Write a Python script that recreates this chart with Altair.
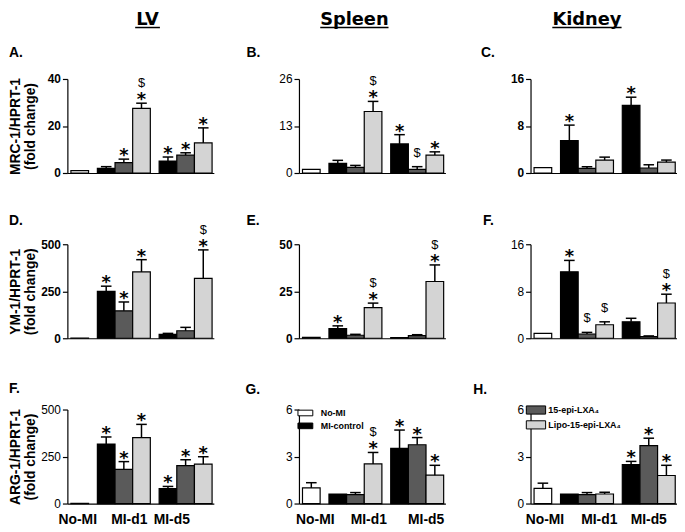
import altair as alt
import pandas as pd

# ---------------- data ----------------
tissues = ["LV", "Spleen", "Kidney"]
panel_letters = ["A.", "B.", "C.", "D.", "E.", "F.", "F.", "G.", "H."]
y_titles = [["MRC-1/HPRT-1", "(fold change)"],
            ["YM-1/HPRT-1", "(fold change)"],
            ["ARG-1/HPRT-1", "(fold change)"]]
series_names = ["No-MI", "MI-control", "15-epi-LXA₄", "Lipo-15-epi-LXA₄"]
time_labels = ["No-MI", "MI-d1", "MI-d5"]
bar_time = [0, 1, 1, 1, 2, 2, 2]
bar_series = [0, 1, 2, 3, 1, 2, 3]

y_ticks = [[0, 20, 40], [0, 13, 26], [0, 8, 16],
           [0, 250, 500], [0, 25, 50], [0, 8, 16],
           [0, 250, 500], [0, 3, 6], [0, 3, 6]]

# A. LV MRC-1
mean_A = [1.0, 2.0, 4.4, 27.5, 5.1, 7.6, 12.8]
sem_A = [0, 0.7, 1.5, 2.2, 1.7, 1.0, 6.4]
sig_A = ["", "", "*", "$*", "*", "*", "*"]
# B. Spleen MRC-1
mean_B = [1.0, 2.65, 1.55, 17.0, 8.05, 1.0, 4.95]
sem_B = [0, 0.85, 0.55, 2.8, 2.55, 0.75, 0.9]
sig_B = ["", "", "", "$*", "*", "$", "*"]
# C. Kidney MRC-1
mean_C = [0.9, 5.5, 0.8, 2.2, 11.5, 0.85, 1.85]
sem_C = [0, 2.65, 0.27, 0.5, 1.4, 0.55, 0.35]
sig_C = ["", "*", "", "", "*", "", ""]
# D. LV YM-1
mean_D = [1, 249, 146, 353, 21, 40, 319]
sem_D = [0, 28, 47, 65, 5, 18, 151]
sig_D = ["", "*", "*", "*", "", "", "$*"]
# E. Spleen YM-1
mean_E = [0.5, 5.2, 1.6, 16.3, 0.3, 1.4, 30.2]
sem_E = [0, 1.4, 0.5, 2.4, 0, 0.5, 8.8]
sig_E = ["", "*", "", "$*", "", "", "$*"]
# F. Kidney YM-1
mean_F = [0.84, 11.3, 0.73, 2.3, 2.8, 0.28, 6.0]
sem_F = [0, 1.95, 0.27, 0.5, 0.6, 0.12, 1.5]
sig_F = ["", "*", "$", "$", "", "", "$*"]
# F. LV ARG-1
mean_F2 = [1, 316, 182, 351, 79, 202, 210]
sem_F2 = [0, 38, 41, 70, 12, 31, 39]
sig_F2 = ["", "*", "*", "*", "*", "*", "*"]
# G. Spleen ARG-1
mean_G = [1.0, 0.61, 0.57, 2.53, 3.52, 3.75, 1.81]
sem_G = [0.33, 0, 0.13, 0.73, 1.17, 0.46, 0.63]
sig_G = ["", "", "", "$*", "*", "*", "*"]
# H. Kidney ARG-1
mean_H = [0.97, 0.61, 0.57, 0.61, 2.48, 3.7, 1.79]
sem_H = [0.33, 0, 0.13, 0.11, 0.21, 0.47, 0.65]
sig_H = ["", "", "", "", "*", "*", "*"]

means = [mean_A, mean_B, mean_C, mean_D, mean_E, mean_F, mean_F2, mean_G, mean_H]
sems = [sem_A, sem_B, sem_C, sem_D, sem_E, sem_F, sem_F2, sem_G, sem_H]
sigs = [sig_A, sig_B, sig_C, sig_D, sig_E, sig_F, sig_F2, sig_G, sig_H]

# ---------------- style ----------------
series_colors = ["#ffffff", "#000000", "#5a5a5a", "#d4d4d4"]
FONT = "Liberation Sans"
W, H = 148, 95
group_start = [0.7, 2.2, 5.7]
x_max = 8.3
bold_labels = [True, False, True, True, True, False, False, False, False]
letter_dx = [-59, -53, -50, -59, -53, -48, -59, -54, -58]
letter_dy = [-22, -22, -22, -19, -19, -19, -17, -16, -16]
header_cx = [81, 56, 57]
header_w = [25, 69, 70]
# where the bottom-row group labels sit (x units), per column
label_pos = [[0.56, 3.48, 5.89], [0.9, 3.93, 7.18], [0.79, 3.87, 6.67]]

legend_cfg = {
    7: dict(values=series_names[0:2], symbolType="M-1,-0.38H1V0.38H-1Z",
            legendX=-1.5, legendY=-4.5, labelOffset=7.5),
    8: dict(values=series_names[2:4], symbolType="M-1.3,-0.55H1.3V0.55H-1.3Z",
            legendX=-2.5, legendY=-7.5, labelOffset=4.5),
}


def make_panel(i):
    row, col = divmod(i, 3)
    pos = []
    for b in range(7):
        g = bar_time[b]
        k = sum(1 for j in range(b) if bar_time[j] == g)
        pos.append(group_start[g] + k)
    df = pd.DataFrame({
        "series": [series_names[s] for s in bar_series],
        "pos": pos,
        "value": means[i],
        "err": sems[i],
        "sig": sigs[i],
    })
    df["x0"] = df["pos"] - 0.5
    df["x1"] = df["pos"] + 0.5
    df["c0"] = df["pos"] - 0.3
    df["c1"] = df["pos"] + 0.3
    df["top"] = df["value"] + df["err"]
    df["base"] = 0.0
    df["star"] = df["sig"].str.contains("*", regex=False)
    df["dollar"] = df["sig"].str.contains("$", regex=False)

    xs = alt.Scale(domain=[0, x_max], nice=False, zero=False)
    ys = alt.Scale(domain=[0, y_ticks[i][-1]], nice=False)

    if row == 2:
        lp = label_pos[col]
        expr = ("datum.value < %g ? '%s' : datum.value < %g ? '%s' : '%s'"
                % ((lp[0] + lp[1]) / 2, time_labels[0],
                   (lp[1] + lp[2]) / 2, time_labels[1], time_labels[2]))
        x_axis = alt.Axis(values=lp, labelExpr=expr, ticks=False, tickSize=0,
                          title=None, labelFont=FONT, labelFontSize=14,
                          labelFontWeight="bold", labelPadding=9,
                          labelFlush=False, labelOverlap=False, grid=False)
    else:
        x_axis = alt.Axis(labels=False, ticks=False, tickSize=0, title=None, grid=False)

    ykw = dict(values=y_ticks[i], labelFont=FONT, labelFontSize=12,
               labelFontWeight="bold" if bold_labels[i] else "normal",
               labelPadding=2, tickSize=5, grid=False)
    if col == 0:
        ykw.update(title=y_titles[row], titleX=-45, titleY=H / 2, titleAngle=-90,
                   titleAlign="center", titleBaseline="bottom", titleFont=FONT,
                   titleFontSize=14, titleFontWeight="bold", titleLineHeight=15)
    else:
        ykw.update(title=None)
    y_axis = alt.Axis(**ykw)

    if i in legend_cfg:
        c = legend_cfg[i]
        legend = alt.Legend(values=c["values"], orient="none", legendX=c["legendX"],
                            legendY=c["legendY"], title=None, symbolType=c["symbolType"],
                            symbolSize=225, symbolStrokeColor="black", symbolStrokeWidth=1,
                            labelFont=FONT, labelFontSize=9, labelFontWeight="bold",
                            labelColor="black", labelOffset=c["labelOffset"],
                            rowPadding=0, padding=0)
    else:
        legend = None

    def X(f):
        return alt.X(f, scale=xs, axis=x_axis)

    def Y(f):
        return alt.Y(f, scale=ys, axis=y_axis)

    base = alt.Chart(df)
    bars = base.mark_bar(stroke="black", strokeWidth=1.2).encode(
        x=X("x0:Q"),
        x2="x1:Q",
        y=Y("value:Q"),
        y2="base:Q",
        fill=alt.Fill("series:N", scale=alt.Scale(domain=series_names, range=series_colors),
                      legend=legend),
    )
    ebase = base.transform_filter("datum.err > 0")
    err = ebase.mark_rule(color="black", strokeWidth=1.5).encode(
        x=X("pos:Q"), y=Y("value:Q"), y2="top:Q")
    cap = ebase.mark_rule(color="black", strokeWidth=1.5).encode(
        x=X("c0:Q"), x2="c1:Q", y=Y("top:Q"))
    stars = base.transform_filter("datum.star").mark_text(
        text="*", font="DejaVu Sans", fontWeight="bold", fontSize=18,
        baseline="alphabetic", dy=2, color="black").encode(
        x=X("pos:Q"), y=Y("top:Q"))
    dol_stack = base.transform_filter("datum.star && datum.dollar").mark_text(
        text="$", font=FONT, fontSize=13, baseline="alphabetic", dy=-16.5,
        color="black").encode(
        x=X("pos:Q"), y=Y("top:Q"))
    dol_lone = base.transform_filter("!datum.star && datum.dollar").mark_text(
        text="$", font=FONT, fontSize=13, baseline="alphabetic", dy=-10,
        color="black").encode(
        x=X("pos:Q"), y=Y("top:Q"))
    letter = alt.Chart(pd.DataFrame({"t": [panel_letters[i]]})).mark_text(
        align="left", baseline="alphabetic", font=FONT, fontSize=14,
        fontWeight="bold", color="black").encode(
        x=alt.value(letter_dx[i]), y=alt.value(letter_dy[i]), text="t:N")

    layers = [bars, err, cap, stars, dol_stack, dol_lone, letter]
    if row == 0:
        head = alt.Chart(pd.DataFrame({"t": [tissues[col]]})).mark_text(
            align="center", baseline="alphabetic", font="DejaVu Sans", fontSize=18,
            fontWeight="bold", color="black").encode(
            x=alt.value(header_cx[col]), y=alt.value(-55), text="t:N")
        uline = alt.Chart(pd.DataFrame({"t": [tissues[col]]})).mark_rule(
            color="black", strokeWidth=1.5).encode(
            x=alt.value(header_cx[col] - header_w[col] / 2),
            x2=alt.value(header_cx[col] + header_w[col] / 2),
            y=alt.value(-52))
        layers += [head, uline]
    return alt.layer(*layers).properties(width=W, height=H)


panels = [make_panel(i) for i in range(9)]

chart = alt.concat(*panels, columns=3, spacing={"row": 72, "column": 86},
                   bounds="flush").resolve_scale(fill="independent").properties(
    padding=0, background="white"
).configure_view(stroke=None).configure_axis(
    domainColor="black", tickColor="black", labelColor="black", titleColor="black",
    domainWidth=1.2, tickWidth=1.2
)

chart.save("out.html", embed_options={"renderer": "svg", "actions": False})
